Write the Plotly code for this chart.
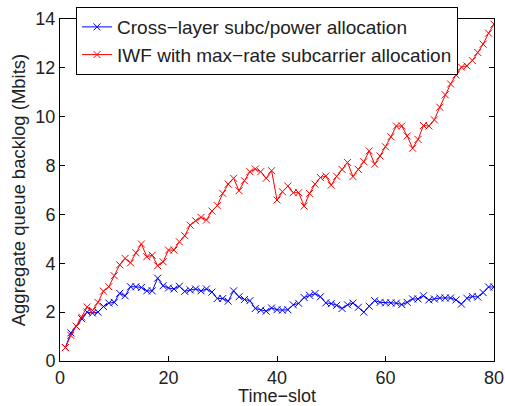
import plotly.graph_objects as go

time_slot = list(range(1, 81))

cross_layer = [0.55, 1.15, 1.42, 1.73, 2.00, 1.96, 2.00, 2.23, 2.37, 2.40,
               2.77, 2.67, 3.04, 3.04, 3.01, 2.87, 2.87, 3.39, 3.08, 2.99,
               2.95, 3.06, 2.85, 2.91, 2.95, 2.87, 2.95, 2.82, 2.56, 2.56,
               2.45, 2.87, 2.63, 2.52, 2.47, 2.15, 2.08, 2.04, 2.17, 2.10,
               2.08, 2.10, 2.30, 2.36, 2.60, 2.69, 2.76, 2.63, 2.38, 2.35,
               2.28, 2.15, 2.30, 2.37, 2.20, 2.00, 2.24, 2.47, 2.40, 2.38,
               2.38, 2.37, 2.31, 2.40, 2.54, 2.54, 2.67, 2.50, 2.54, 2.58,
               2.58, 2.58, 2.50, 2.33, 2.57, 2.64, 2.62, 2.80, 3.03, 3.03]

iwf = [0.55, 1.05, 1.42, 1.80, 2.21, 2.07, 2.40, 2.86, 3.04, 3.49,
       3.94, 4.20, 4.02, 4.43, 4.79, 4.27, 4.33, 3.90, 4.06, 4.54,
       4.54, 4.88, 5.13, 5.56, 5.74, 5.88, 5.77, 6.14, 6.36, 6.86,
       7.24, 7.48, 6.97, 7.38, 7.75, 7.86, 7.75, 7.48, 7.79, 6.59,
       6.93, 7.16, 6.89, 6.89, 6.34, 6.86, 7.24, 7.51, 7.57, 7.20,
       7.56, 7.84, 8.13, 7.55, 7.84, 8.16, 8.60, 8.06, 8.39, 8.77,
       9.18, 9.62, 9.62, 9.21, 8.71, 9.07, 9.64, 9.62, 9.87, 10.39,
       10.90, 11.34, 11.71, 12.03, 12.08, 12.30, 12.63, 12.97, 13.42, 13.79]

x_ticks = [0, 20, 40, 60, 80]
y_ticks = [0, 2, 4, 6, 8, 10, 12, 14]

FONT = "Liberation Sans, Arial, sans-serif"

fig = go.Figure()
fig.add_trace(go.Scatter(
    x=time_slot, y=cross_layer, mode="lines+markers",
    name="Cross\u2212layer subc/power allocation",
    line=dict(color="#0000ff", width=1),
    marker=dict(symbol="x-thin", size=7, line=dict(color="#0000ff", width=1), color="#0000ff"),
))
fig.add_trace(go.Scatter(
    x=time_slot, y=iwf, mode="lines+markers",
    name="IWF with max\u2212rate subcarrier allocation",
    line=dict(color="#ff0000", width=1),
    marker=dict(symbol="x-thin", size=7, line=dict(color="#ff0000", width=1), color="#ff0000"),
))

axis_common = dict(
    showgrid=False, zeroline=False, showline=True, linecolor="black", linewidth=1,
    mirror="ticks", ticks="inside", ticklen=5, tickcolor="black", tickwidth=1,
    tickfont=dict(family=FONT, size=18, color="#222"),
)

fig.update_layout(
    width=505, height=406,
    margin=dict(l=60, r=11, t=19, b=45, autoexpand=False),
    paper_bgcolor="white", plot_bgcolor="white",
    font=dict(family=FONT, size=18, color="#222"),
    xaxis=dict(range=[0, 80], tickvals=x_ticks,
               title=dict(text="Time\u2212slot", standoff=0,
                          font=dict(size=18)), **axis_common),
    yaxis=dict(range=[0, 14], tickvals=y_ticks,
               title=dict(text="Aggregate queue backlog (Mbits)", standoff=4,
                          font=dict(size=18.5)), **axis_common),
    legend=dict(x=0.037, y=1.035, xanchor="left", yanchor="top",
                bgcolor="white", bordercolor="black", borderwidth=1,
                font=dict(size=19, color="#222"), tracegroupgap=0,
                itemwidth=30),
    showlegend=True,
)

fig.write_html("out.html",
               config={"displayModeBar": False},
               post_script="document.body.style.margin='0';document.body.style.overflow='hidden';")
